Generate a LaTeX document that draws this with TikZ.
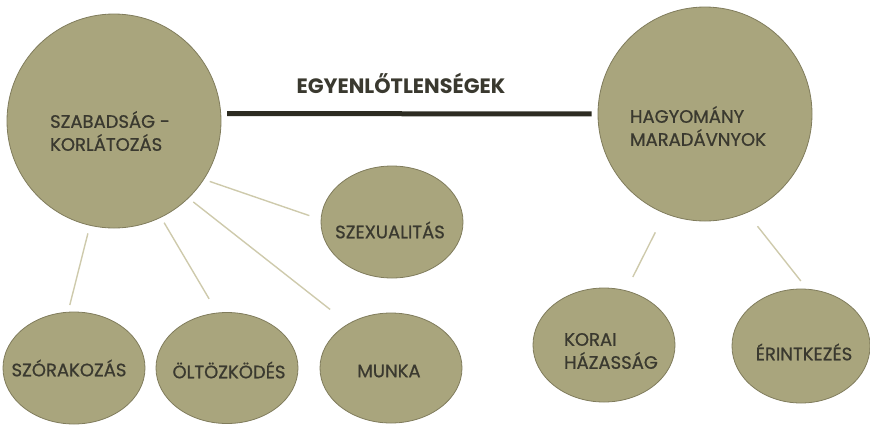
\documentclass[tikz,border=0pt]{standalone}
\usepackage{fontspec}
\setmainfont{Poppins}
\newfontfamily\lblfont{Poppins}[FakeBold=0.8]
\usetikzlibrary{shapes.geometric}
\definecolor{khakifill}{RGB}{169,165,125}
\definecolor{khakiedge}{RGB}{128,124,92}
\definecolor{connc}{RGB}{206,202,172}
\definecolor{txtc}{RGB}{58,57,47}
\definecolor{barc}{RGB}{45,44,34}
\begin{document}
\begin{tikzpicture}[x=1pt,y=-1pt,
  bubble/.style={draw=khakiedge, fill=khakifill, line width=0.8pt, inner sep=0pt},
  big/.style={bubble, circle, minimum size=214pt},
  oval/.style={bubble, ellipse},
  lbl/.style={text=txtc, font=\lblfont\fontsize{18}{23}\selectfont, align=left, inner sep=0pt},
  conn/.style={draw=connc, line width=1.4pt},
  bar/.style={draw=barc, line width=5pt}]
\useasboundingbox (0,0) rectangle (870,424);

% main bubbles
\node[big] (L) at (114,121) {};
\node[big] (H) at (705,114) {};
\node[lbl] (Lt) at (110,131) {SZABADSÁG -\\KORLÁTOZÁS};
\node[lbl] (Ht) at (698,126) {HAGYOMÁNY\\MARADÁVNYOK};

% small bubbles
\node[oval, minimum width=142pt, minimum height=112pt] (S) at (392,222) {};
\node[oval, minimum width=142pt, minimum height=112pt] (Sz) at (74,368) {};
\node[oval, minimum width=142pt, minimum height=111pt] (O) at (227,368) {};
\node[oval, minimum width=142pt, minimum height=110pt] (M) at (391,368) {};
\node[oval, minimum width=142pt, minimum height=114pt] (K) at (604,345) {};
\node[oval, minimum width=138pt, minimum height=114pt] (E) at (801,346) {};

\node[lbl] (St) at (390,230) {SZEXUALITÁS};
\node[lbl] (Szt) at (69,368) {SZÓRAKOZÁS};
\node[lbl] (Ot) at (229,370) {ÖLTÖZKÖDÉS};
\node[lbl] (Mt) at (389,371) {MUNKA};
\node[lbl] (Kt) at (611,351) {KORAI\\HÁZASSÁG};
\node[lbl] (Et) at (804,352) {ÉRINTKEZÉS};

% title and bar
\node[text=txtc, inner sep=0pt, font=\fontsize{20.8}{24}\selectfont\bfseries] (T) at (401,83) {EGYENLŐTLENSÉGEK};
\draw[bar, shorten <=6pt, shorten >=6pt] (L.4) -- (H.180);

% connectors
\draw[conn, shorten <=6pt, shorten >=12pt] (L.-33) -- (S.178);
\draw[conn, shorten <=6pt, shorten >=23pt] (L.-46) -- (M.134);
\draw[conn, shorten <=6pt, shorten >=16pt] (L.-64) -- (O.100);
\draw[conn, shorten <=8pt, shorten >=7pt] (L.-103) -- (Sz.96);
\draw[conn, shorten <=21pt, shorten >=15pt] (H.-112) -- (K.68);
\draw[conn, shorten <=17pt, shorten >=10pt] (H.-67) -- (E.84);
\end{tikzpicture}
\end{document}
